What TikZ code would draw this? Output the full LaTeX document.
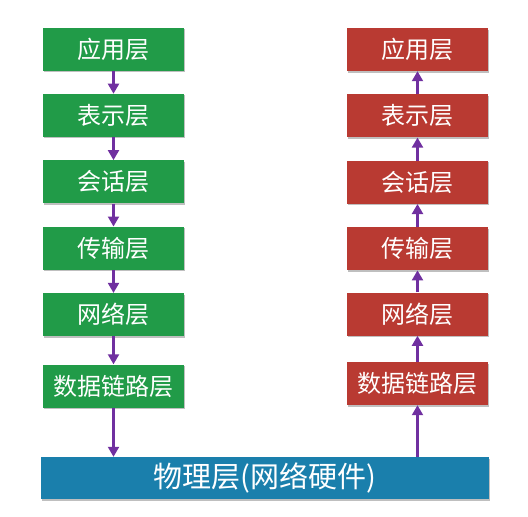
\documentclass[tikz,border=0pt]{standalone}
\usepackage{fontspec}
\newfontfamily\cjk{Noto Sans CJK SC}
\usetikzlibrary{positioning,arrows.meta,shadows}

\definecolor{layergreen}{RGB}{33,155,72}
\definecolor{layerred}{RGB}{185,58,50}
\definecolor{layerblue}{RGB}{26,127,172}
\definecolor{flowpurple}{RGB}{112,48,160}

\tikzset{
  layer/.style={minimum width=141pt, minimum height=43pt, inner sep=0pt, text=white,
    font=\cjk\fontsize{24}{24}\selectfont,
    drop shadow={shadow xshift=1pt, shadow yshift=-1.5pt, opacity=0.25, fill=black}},
  sendbox/.style={layer, fill=layergreen},
  recvbox/.style={layer, fill=layerred},
  flow/.style={draw=flowpurple, line width=2.1pt, -{Triangle[width=11pt,length=10pt]}}
}

\begin{document}
\begin{tikzpicture}[node distance=23pt]
\useasboundingbox (0,0) rectangle (528pt,-517pt);

\node[sendbox] (sApp) at (113.5pt,-49pt) {应用层};
\node[sendbox, below=of sApp] (sPre) {表示层};
\node[sendbox, below=of sPre] (sSes) {会话层};
\node[sendbox, below=of sSes] (sTra) {传输层};
\node[sendbox, below=of sTra] (sNet) {网络层};
\node[sendbox, below=28pt of sNet] (sLink) {数据链路层};

\node[recvbox] (rApp) at (417.5pt,-49.5pt) {应用层};
\node[recvbox, below=of rApp] (rPre) {表示层};
\node[recvbox, below=of rPre] (rSes) {会话层};
\node[recvbox, below=of rSes] (rTra) {传输层};
\node[recvbox, below=22pt of rTra] (rNet) {网络层};
\node[recvbox, below=26pt of rNet] (rLink) {数据链路层};

\node[layer, fill=layerblue, minimum width=448pt, minimum height=42pt,
      font=\cjk\fontsize{29}{29}\selectfont] (phys) at (265pt,-478pt) {物理层(网络硬件)};

\draw[flow] (sApp) -- (sPre);
\draw[flow] (sPre) -- (sSes);
\draw[flow] (sSes) -- (sTra);
\draw[flow] (sTra) -- (sNet);
\draw[flow] (sNet) -- (sLink);
\draw[flow] (sLink.south) -- (sLink.south |- phys.north);

\draw[flow] (rLink.south |- phys.north) -- (rLink.south);
\draw[flow] (rLink) -- (rNet);
\draw[flow] (rNet) -- (rTra);
\draw[flow] (rTra) -- (rSes);
\draw[flow] (rSes) -- (rPre);
\draw[flow] (rPre) -- (rApp);

\end{tikzpicture}
\end{document}
